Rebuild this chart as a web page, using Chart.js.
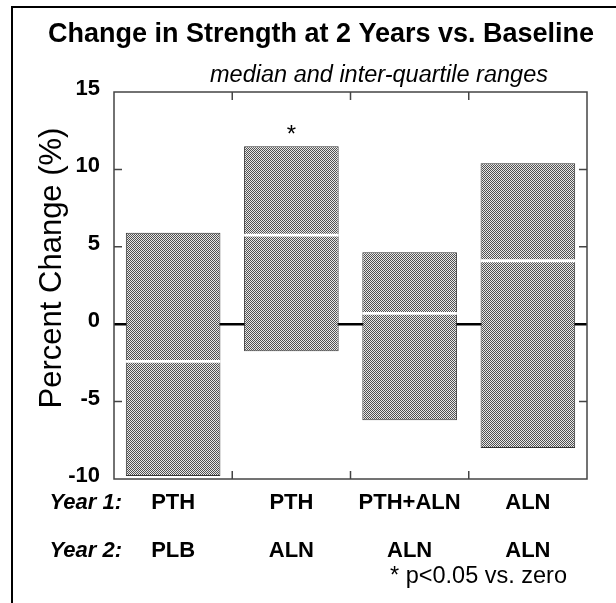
<!DOCTYPE html>
<html>
<head>
<meta charset="utf-8">
<script src="https://cdn.jsdelivr.net/npm/chart.js@4"></script>
<style>
html, body { margin: 0; padding: 0; background: #fff; }
</style>
</head>
<body>
<canvas id="strengthChart" width="616" height="603"></canvas>
<script>
// Change in strength at 2 years, median and inter-quartile range per group
const year1 = ['PTH', 'PTH', 'PTH+ALN', 'ALN'];
const year2 = ['PLB', 'ALN', 'ALN', 'ALN'];
const q1 = [-9.8, -1.75, -6.2, -8.0];
const q3 = [5.9, 11.5, 4.65, 10.4];
const medians = [-2.4, 5.75, 0.7, 4.1];
const significant = [false, true, false, false];
const yTicks = [-10, -5, 0, 5, 10, 15];

const FONT = '"Liberation Sans", Arial, Helvetica, sans-serif';

// dotted grey fill like the print screen
function stipple() {
  const c = document.createElement('canvas');
  c.width = 2; c.height = 2;
  const g = c.getContext('2d');
  g.fillStyle = '#e8e8e8';
  g.fillRect(0, 0, 2, 2);
  g.fillStyle = '#505050';
  g.fillRect(0, 0, 1, 1);
  g.fillRect(1, 1, 1, 1);
  return g.createPattern(c, 'repeat');
}

const frameAndText = {
  id: 'frameAndText',
  afterDraw(chart) {
    const { ctx, chartArea: a, scales: { x, y } } = chart;
    ctx.save();

    // outer box
    ctx.strokeStyle = '#000';
    ctx.lineWidth = 2;
    ctx.strokeRect(12, 7, 700, 700);

    // plot frame
    ctx.strokeStyle = '#444';
    ctx.lineWidth = 1.5;
    ctx.strokeRect(a.left, a.top, a.right - a.left, a.bottom - a.top);

    // inward tick marks
    ctx.beginPath();
    for (let i = 0; i < year1.length - 1; i++) {
      const px = (x.getPixelForValue(i) + x.getPixelForValue(i + 1)) / 2;
      ctx.moveTo(px, a.top); ctx.lineTo(px, a.top + 8);
      ctx.moveTo(px, a.bottom); ctx.lineTo(px, a.bottom - 8);
    }
    yTicks.slice(1, -1).filter(v => v !== 0).forEach(v => {
      const py = y.getPixelForValue(v);
      ctx.moveTo(a.left, py); ctx.lineTo(a.left + 8, py);
      ctx.moveTo(a.right, py); ctx.lineTo(a.right - 8, py);
    });
    ctx.stroke();

    ctx.fillStyle = '#000';

    // title + subtitle
    ctx.textAlign = 'center';
    ctx.textBaseline = 'alphabetic';
    ctx.font = 'bold 27px ' + FONT;
    ctx.fillText('Change in Strength at 2 Years vs. Baseline', 321, 42);
    ctx.font = 'italic 23.5px ' + FONT;
    ctx.fillText('median and inter-quartile ranges', 379, 82);

    // significance marks
    ctx.font = '24px ' + FONT;
    significant.forEach((s, i) => {
      if (s) ctx.fillText('*', x.getPixelForValue(i), y.getPixelForValue(q3[i]) - 4);
    });

    // y axis title
    ctx.save();
    ctx.translate(52, 268);
    ctx.rotate(-Math.PI / 2);
    ctx.textBaseline = 'middle';
    ctx.font = '31px ' + FONT;
    ctx.fillText('Percent Change (%)', 0, 0);
    ctx.restore();

    // row headers
    ctx.textAlign = 'right';
    ctx.textBaseline = 'middle';
    ctx.font = 'italic bold 22px ' + FONT;
    ctx.fillText('Year 1:', 122, x.top + 24);
    ctx.fillText('Year 2:', 122, x.top + 72);

    // footnote
    ctx.textAlign = 'left';
    ctx.font = '23.5px ' + FONT;
    ctx.fillText('* p<0.05 vs. zero', 390, 577);

    ctx.restore();
  }
};

const strengthData = {
  labels: year1.map((t, i) => [t, year2[i]]),
  datasets: [{
    label: 'Median',
    data: medians.map(m => [m - 0.09, m + 0.09]),
    backgroundColor: '#fff',
    borderWidth: 0,
    barPercentage: 0.8,
    categoryPercentage: 1,
    grouped: false,
    order: 1
  }, {
    label: 'IQR',
    data: q1.map((lo, i) => [lo, q3[i]]),
    backgroundColor: stipple(),
    borderColor: '#333',
    borderWidth: 1,
    borderSkipped: false,
    barPercentage: 0.8,
    categoryPercentage: 1,
    grouped: false,
    order: 2
  }]
};

const config = {
  type: 'bar',
  data: strengthData,
  options: {
    responsive: false,
    devicePixelRatio: 1,
    animation: false,
    layout: { padding: { left: 0, right: 29, top: 92, bottom: 28 } },
    plugins: {
      legend: { display: false },
      tooltip: { enabled: false }
    },
    scales: {
      x: {
        offset: true,
        afterFit: s => { s.height = 96; },
        grid: { display: false, drawTicks: false },
        border: { display: false },
        ticks: {
          color: '#000',
          padding: 0,
          maxRotation: 0,
          font: { family: FONT, size: 22, weight: 'bold', lineHeight: '48px' }
        }
      },
      y: {
        min: -10,
        max: 15,
        z: 1,
        afterFit: s => { s.width = 114; },
        border: { display: false },
        grid: {
          drawTicks: false,
          color: c => (c.tick && c.tick.value === 0 ? '#000' : 'rgba(0,0,0,0)'),
          lineWidth: c => (c.tick && c.tick.value === 0 ? 2.5 : 1)
        },
        ticks: {
          stepSize: 5,
          padding: 14,
          labelOffset: -3,
          color: '#000',
          font: { family: FONT, size: 22, weight: 'bold' }
        }
      }
    }
  },
  plugins: [frameAndText]
};

const strengthChart = new Chart(document.getElementById('strengthChart'), config);
</script>
</body>
</html>
